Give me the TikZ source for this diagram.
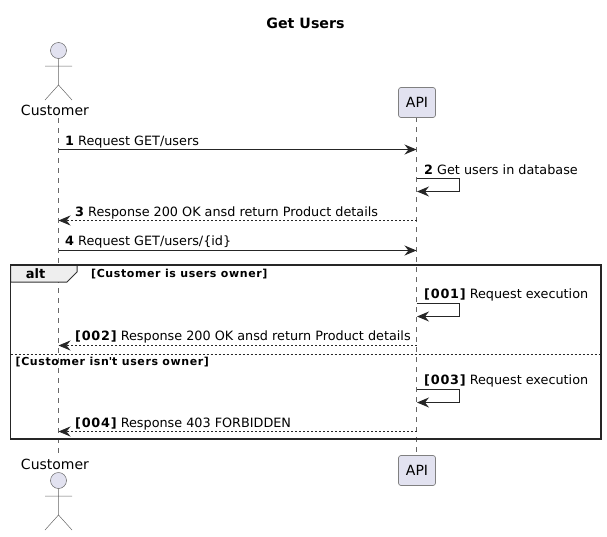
\documentclass[tikz,border=0pt]{standalone}
\usepackage{fontspec}
\setmainfont{DejaVu Sans}
\usetikzlibrary{arrows.meta}
\definecolor{actorfill}{HTML}{E2E2F0}
\definecolor{actorline}{HTML}{666666}
\definecolor{boxline}{HTML}{808080}
\definecolor{tabfill}{HTML}{EEEEEE}
\newcommand{\msgtag}[1]{{\bfseries\addfontfeature{LetterSpace=6}#1}}
\tikzset{
  lifeline/.style = {draw = actorline, line width = 0.5pt, dash pattern = on 5pt off 5pt},
  actorbody/.style = {draw = actorline, line width = 0.5pt},
  actorhead/.style = {circle, draw = actorline, fill = actorfill, line width = 0.5pt, minimum size = 16pt, inner sep = 0pt},
  partbox/.style = {draw = boxline, fill = actorfill, line width = 0.7pt, rounded corners = 2.5pt, minimum width = 37pt, minimum height = 30pt, inner sep = 0pt, font = \fontsize{14}{16}\selectfont},
  actorlabel/.style = {inner sep = 0pt, anchor = base, font = \fontsize{14}{16}\selectfont},
  msglabel/.style = {inner sep = 0pt, anchor = base west, font = \fontsize{12.8}{15}\selectfont},
  guardlabel/.style = {inner sep = 0pt, anchor = base west, font = \fontsize{11}{13}\selectfont\bfseries\addfontfeature{LetterSpace=5.4}},
  msg/.style = {draw = black!85, line width = 1pt, -{Stealth[length = 12pt, width = 10pt, inset = 4pt]}},
  reply/.style = {msg, line width = 0.8pt, dash pattern = on 2pt off 2pt},
}
\begin{document}
\begin{tikzpicture}[x = 1pt, y = -1pt]
\useasboundingbox (0,0) rectangle (607,536);
\node[inner sep = 0pt, anchor = base, font = \fontsize{14.2}{16}\selectfont\bfseries] (title) at (305.5,28) {Get Users};
% lifelines
\coordinate (c0) at (58.5,118);
\coordinate (c1) at (58.5,455);
\coordinate (a0) at (416.5,117);
\coordinate (a1) at (416.5,456);
\draw[lifeline] (c0) -- (c1);
\draw[lifeline] (a0) -- (a1);
\node[partbox] (apitop) at (417,102.5) {API};
\node[partbox] (apibot) at (417,470.5) {API};
% actors
\node[actorlabel] (custtop) at (55,115) {Customer};
\node[actorlabel] (custbot) at (55,469) {Customer};
\node[actorhead] (headtop) at (58.5,50.5) {};
\node[actorhead] (headbot) at (58.5,480.5) {};
\draw[actorbody] (headtop) -- (58.5,85) -- (45,100) (58.5,85) -- (72,100) (45,66) -- (72,66);
\draw[actorbody] (headbot) -- (58.5,515) -- (45,530) (58.5,515) -- (72,530) (45,496) -- (72,496);
% alt frame
\coordinate (f1) at (10.5,265);
\coordinate (f2) at (601,439);
\draw[fill = tabfill, draw = black!80, line width = 1pt] (10.5,265) -- (77,265) -- (77,272) -- (67,282) -- (10.5,282) -- cycle;
\draw[draw = black!85, line width = 1.5pt] (f1) rectangle (f2);
\node[inner sep = 0pt, anchor = base, font = \fontsize{13}{15}\selectfont\bfseries] (alt) at (35.5,278) {alt};
\node[guardlabel] (g1) at (91,277) {[Customer is users owner]};
\node[guardlabel] (g2) at (15.5,365) {[Customer isn\textquotesingle t users owner]};
\coordinate (d1) at (10.5,354.5);
\coordinate (d2) at (601,354.5);
\draw[draw = black!85, line width = 0.8pt, dash pattern = on 2pt off 2pt] (d1) -- (d2);
% points on the lifelines
\coordinate (m1a) at (58.5,149.5);
\coordinate (m1b) at (416.5,149.5);
\coordinate (m3a) at (416.5,220.5);
\coordinate (m3b) at (58.5,220.5);
\coordinate (m4a) at (58.5,250.5);
\coordinate (m4b) at (416.5,250.5);
\coordinate (m6a) at (416.5,345.5);
\coordinate (m6b) at (58.5,345.5);
\coordinate (m8a) at (416.5,431.5);
\coordinate (m8b) at (58.5,431.5);
\draw[msg] (m1a) -- (m1b);
\draw[msg] (416.5,178.5) -- (459.5,178.5) -- (459.5,191.5) -- (417,191.5);
\draw[reply] (m3a) -- (m3b);
\draw[msg] (m4a) -- (m4b);
\draw[msg] (416.5,303.5) -- (459.5,303.5) -- (459.5,316.5) -- (417,316.5);
\draw[reply] (m6a) -- (m6b);
\draw[msg] (416.5,389.5) -- (459.5,389.5) -- (459.5,402.5) -- (417,402.5);
\draw[reply] (m8a) -- (m8b);
% labels
\node[msglabel] (t1) at (65,145) {\msgtag{1} Request GET/users};
\node[msglabel] (t2) at (424,174) {\msgtag{2} Get users in database};
\node[msglabel] (t3) at (75,216) {\msgtag{3} Response 200 OK ansd return Product details};
\node[msglabel] (t4) at (65,245.5) {\msgtag{4} Request GET/users/\{id\}};
\node[msglabel] (t5) at (424,298) {\msgtag{[001]} Request execution};
\node[msglabel] (t6) at (75,340) {\msgtag{[002]} Response 200 OK ansd return Product details};
\node[msglabel] (t7) at (424,384) {\msgtag{[003]} Request execution};
\node[msglabel] (t8) at (75,427) {\msgtag{[004]} Response 403 FORBIDDEN};
\end{tikzpicture}
\end{document}
